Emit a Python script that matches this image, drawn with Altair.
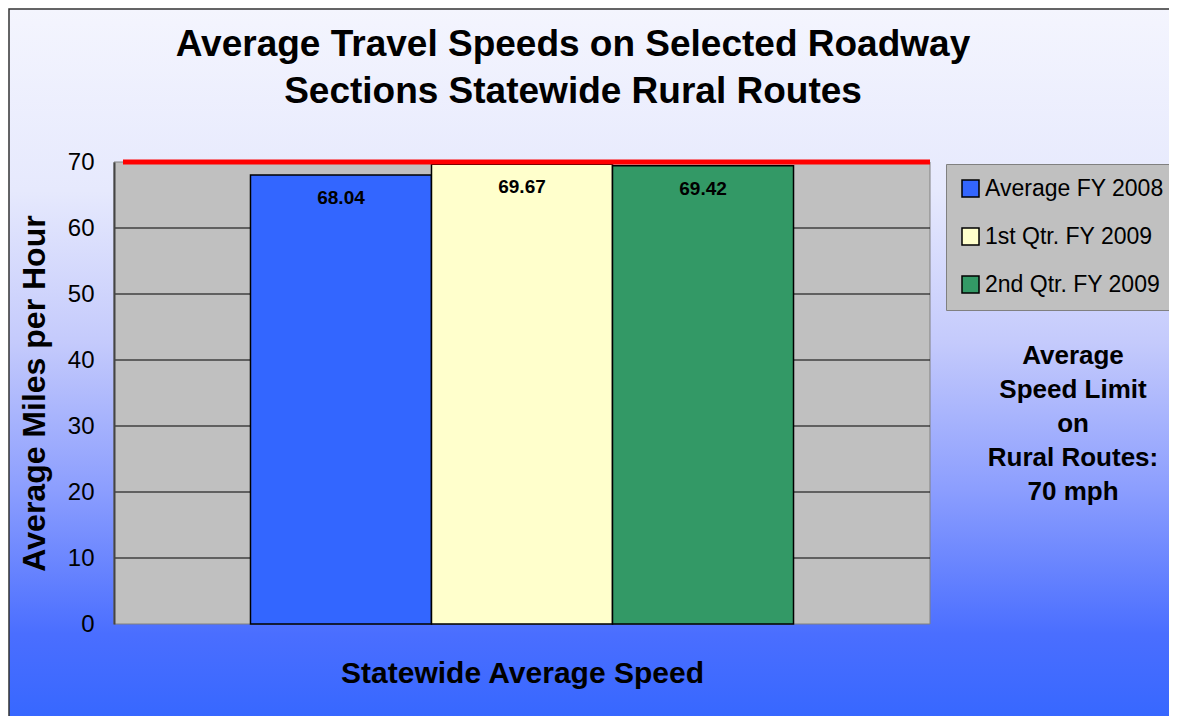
import altair as alt
import pandas as pd

series = ["Average FY 2008", "1st Qtr. FY 2009", "2nd Qtr. FY 2009"]
speeds = [68.04, 69.67, 69.42]
labels = ["68.04", "69.67", "69.42"]
colors = ["#3366FF", "#FFFFCC", "#339966"]
grid_ticks = [10, 20, 30, 40, 50, 60]
speed_limit = [70]
note_lines = ["Average", "Speed Limit", "on", "Rural Routes:", "70 mph"]
title_lines = ["Average Travel Speeds on Selected Roadway", "Sections Statewide Rural Routes"]

FONT = "Liberation Sans"
W, H = 816, 462
PL, PT, PR, PB = 106, 154, 239, 92

bars_df = pd.DataFrame({"series": series, "speed": speeds, "label": labels})
grid_df = pd.DataFrame({"tick": grid_ticks})
limit_df = pd.DataFrame({"limit": speed_limit})
note_df = pd.DataFrame({"note": ["\n".join(note_lines)]})
one = pd.DataFrame({"k": [0]})

bg = alt.Chart(one).mark_rect(
    clip=False,
    stroke="#333333",
    strokeWidth=1.5,
    fill=alt.Gradient(
        gradient="linear", x1=0, y1=0, x2=0, y2=1,
        stops=[
            alt.GradientStop(color="#F4F5FE", offset=0),
            alt.GradientStop(color="#E6E9FD", offset=0.25),
            alt.GradientStop(color="#C4CAFC", offset=0.46),
            alt.GradientStop(color="#8C9EFE", offset=0.66),
            alt.GradientStop(color="#4A6EFF", offset=0.86),
            alt.GradientStop(color="#3366FF", offset=1),
        ],
    ),
).encode(
    x=alt.value(-PL + 1), x2=alt.value(W + PR + 20),
    y=alt.value(-PT + 1), y2=alt.value(H + PB + 20),
)

plotbg = alt.Chart(one).mark_rect(fill="#C0C0C0", stroke="#808080", strokeWidth=1).encode(
    x=alt.value(0), x2=alt.value(W), y=alt.value(0), y2=alt.value(H)
)

yscale = alt.Scale(domain=[0, 70], nice=False)

grid = alt.Chart(grid_df).mark_rule(color="black", strokeWidth=1).encode(
    y=alt.Y("tick:Q", scale=yscale)
)

xenc = alt.X(
    "series:N",
    sort=series,
    scale=alt.Scale(paddingInner=0, paddingOuter=0.754),
    axis=alt.Axis(
        labels=False, ticks=False, domain=False,
        title="Statewide Average Speed",
        titleFont=FONT, titleFontSize=30, titleFontWeight="bold", titleColor="black",
        titlePadding=34, zindex=1,
    ),
)

bars = alt.Chart(bars_df).mark_bar(stroke="black", strokeWidth=1.5).encode(
    x=xenc,
    y=alt.Y(
        "speed:Q", scale=yscale,
        axis=alt.Axis(
            values=[0, 10, 20, 30, 40, 50, 60, 70], grid=False, ticks=False,
            domain=True, domainColor="#444444", domainWidth=2,
            labelFont=FONT, labelFontSize=24, labelColor="black", labelPadding=20,
            title="Average Miles per Hour",
            titleFont=FONT, titleFontSize=32, titleFontWeight="bold", titleColor="black",
            titlePadding=16, zindex=1,
        ),
    ),
    color=alt.Color(
        "series:N", sort=series,
        scale=alt.Scale(domain=series, range=colors),
        legend=alt.Legend(
            title=None, orient="none", legendX=832, legendY=2,
            symbolType="square", symbolSize=289, symbolStrokeColor="black",
            symbolStrokeWidth=1.5, labelFont=FONT, labelFontSize=23,
            labelColor="black", labelLimit=400, rowPadding=24, padding=13, labelOffset=3,
            fillColor="#C0C0C0", strokeColor="#808080",
        ),
    ),
)

limit = alt.Chart(limit_df).mark_rule(color="#FF0000", strokeWidth=5).encode(
    y=alt.Y("limit:Q", scale=yscale), x=alt.value(9), x2=alt.value(W)
)

text = alt.Chart(bars_df).mark_text(
    font=FONT, fontSize=19, fontWeight="bold", color="black", baseline="middle", dy=23
).encode(
    x=alt.X("series:N", sort=series),
    y=alt.Y("speed:Q", scale=yscale),
    text="label:N",
)

note = alt.Chart(note_df).mark_text(
    font=FONT, fontSize=26, fontWeight="bold", color="black",
    align="center", baseline="top", lineBreak="\n", lineHeight=34, clip=False,
).encode(x=alt.value(959), y=alt.value(181), text="note:N")

chart = alt.layer(bg, plotbg, grid, bars, limit, text, note).properties(
    width=W, height=H,
    autosize=alt.AutoSizeParams(type="none"),
    padding={"left": PL, "top": PT, "right": PR, "bottom": PB},
    title=alt.Title(
        title_lines, font=FONT, fontSize=37, fontWeight="bold", color="black",
        anchor="middle", frame="group", dx=51, lineHeight=47, offset=-103,
    ),
).configure_view(stroke=None).resolve_scale(y="shared")

chart.save("out.html", embed_options={"renderer": "svg", "actions": False})
